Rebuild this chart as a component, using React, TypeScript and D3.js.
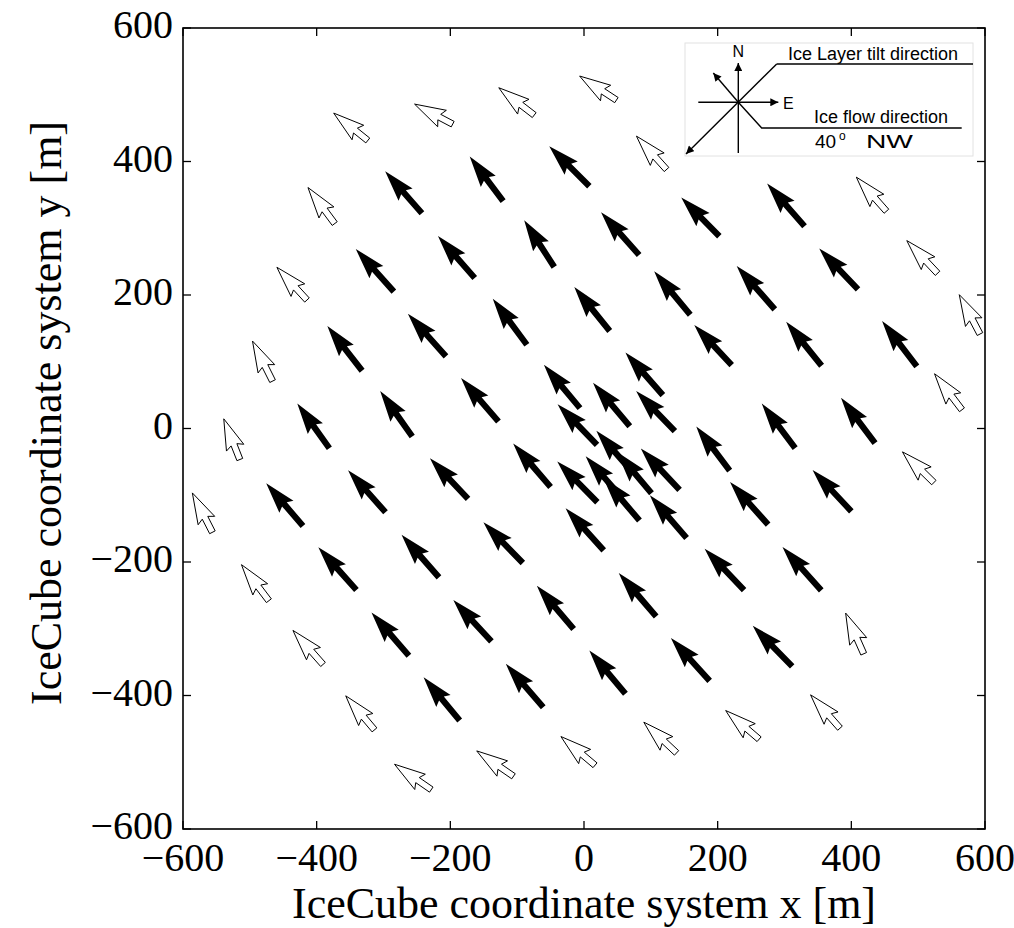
import React from 'react';
import * as d3 from 'd3';

const W = 1014;
const H = 928;

const xTicks = [-600, -400, -200, 0, 200, 400, 600];
const yTicks = [-600, -400, -200, 0, 200, 400, 600];

// Inner strings (filled arrows): position (x, y) in m and arrow vector (u, v) in m
const innerX = [-270, -146, -22, 174, 302, -313, -191, -67, 54, 257, 381, -358, -235, -111, 12, 132, 193, 329, 472, -405, -281, -156, -33, 90, 41, -10, 107, 193, 291, 410, -448, -325, -202, -78, -10, 46, 75, 30, 56, 114, 126, 247, 371, -369, -245, -121, 1, 210, 326, -290, -167, -43, 80, 282, -213, -89, 35, 159];
const innerY = [354, 374, 393, 317, 335, 237, 257, 277, 292, 211, 239, 120, 140, 160, 179, 203, 125, 127, 127, 4, 22, 43, 63, 82, 36, 6, 26, -30, 4, 12, -114, -94, -75, -55, -80, -35, -66, -73, -106, -61, -132, -112, -93, -210, -191, -171, -151, -211, -210, -308, -288, -268, -249, -326, -405, -385, -365, -346];
const innerU = [-55, -50, -60, -57, -56, -57, -55, -45, -57, -57, -58, -52, -57, -51, -53, -54, -56, -53, -52, -48, -48, -56, -54, -56, -55, -59, -58, -50, -50, -51, -55, -56, -57, -56, -60, -55, -52, -55, -54, -58, -55, -57, -58, -57, -56, -59, -57, -59, -58, -56, -57, -55, -56, -59, -54, -56, -54, -58];
const innerV = [63, 67, 60, 58, 64, 64, 63, 70, 64, 65, 61, 67, 64, 69, 66, 65, 60, 66, 68, 67, 68, 65, 65, 64, 65, 61, 60, 66, 67, 68, 64, 63, 61, 65, 61, 63, 62, 63, 64, 62, 64, 64, 62, 64, 64, 61, 63, 62, 65, 65, 62, 65, 65, 61, 65, 65, 65, 64];

// Outer strings (open arrows)
const outerX = [-349, -225, -101, 21, 101, -393, -437, -481, -527, -571, -492, -413, -335, -256, -133, -9, 114, 237, 361, 405, 500, 545, 577, 506, 430];
const outerY = [452, 471, 490, 510, 413, 334, 217, 101, -16, -126, -231, -328, -426, -522, -502, -483, -463, -444, -424, -307, -58, 55, 171, 257, 351];
const outerU = [-51, -57, -53, -55, -45, -40, -45, -30, -24, -30, -41, -45, -43, -55, -55, -51, -49, -50, -44, -27, -47, -41, -31, -46, -45];
const outerV = [41, 30, 41, 36, 50, 54, 49, 60, 61, 59, 54, 51, 51, 38, 38, 43, 46, 43, 50, 61, 46, 54, 59, 49, 51];

const fmt = (t: number) => (t < 0 ? '\u2212' + Math.abs(t) : String(t));

export default function App() {
  const x = d3.scaleLinear().domain([-600, 600]).range([183, 985]);
  const y = d3.scaleLinear().domain([-600, 600]).range([829, 28]);

  const arrowPath = (xi: number, yi: number, u: number, v: number) => {
    const x0 = x(xi - u / 2), y0 = y(yi - v / 2);
    const x1 = x(xi + u / 2), y1 = y(yi + v / 2);
    const dx = x1 - x0, dy = y1 - y0;
    const L = Math.hypot(dx, dy);
    const ux = dx / L, uy = dy / L;
    const px = -uy, py = ux;
    const w = 6.2, hw = 3 * w, hl = 5 * w, hal = 4.5 * w;
    const pts: [number, number][] = [
      [0, -w / 2], [L - hal, -w / 2], [L - hl, -hw / 2], [L, 0],
      [L - hl, hw / 2], [L - hal, w / 2], [0, w / 2],
    ];
    return (d3.line()(pts.map(([a, b]) => [x0 + ux * a + px * b, y0 + uy * a + py * b]) as [number, number][]) || '') + 'Z';
  };

  const serif = '"Liberation Serif", "Times New Roman", serif';
  const sans = '"Liberation Sans", Arial, sans-serif';
  const [x0, x1] = x.range();
  const [y0, y1] = [y(600), y(-600)];
  const tl = 8;

  // inset geometry (pixel layout)
  const cx = 738.3, cy = 102.3;

  return (
    <svg width={W} height={H} style={{ position: 'absolute', left: 0, top: 0, background: '#fff' }}>
      <defs>
        <marker id="ah" viewBox="0 0 10 10" refX="10" refY="5" markerWidth="9" markerHeight="8" markerUnits="userSpaceOnUse" orient="auto">
          <path d="M0,0 L10,5 L0,10 Z" fill="#000" />
        </marker>
      </defs>
      <rect x={0} y={0} width={W} height={H} fill="#fff" />

      {/* arrows */}
      <g>
        {outerX.map((xi, i) => (
          <path key={'o' + i} d={arrowPath(xi, outerY[i], outerU[i], outerV[i])} fill="#fff" stroke="#000" strokeWidth={1} strokeLinejoin="miter" />
        ))}
        {innerX.map((xi, i) => (
          <path key={'i' + i} d={arrowPath(xi, innerY[i], innerU[i], innerV[i])} fill="#000" stroke="none" />
        ))}
      </g>

      {/* inset legend */}
      <g>
        <rect x={685} y={43} width={288} height={113} fill="#fff" stroke="#e2e2e2" strokeWidth={1} />
        <g stroke="#000" strokeWidth={1.4} fill="none">
          <line x1={cx} y1={153} x2={cx} y2={63} markerEnd="url(#ah)" />
          <line x1={698.3} y1={cy} x2={778.3} y2={cy} markerEnd="url(#ah)" />
          <line x1={cx} y1={cy} x2={713.3} y2={73} markerEnd="url(#ah)" />
          <line x1={776.7} y1={64} x2={686} y2={154} markerEnd="url(#ah)" />
          <polyline points={`776.7,64 973,64`} />
          <polyline points={`${cx},${cy} 761.7,128 961.7,128`} />
        </g>
        <g fontFamily={sans} fill="#000">
          <text x={cx} y={57} fontSize={16} textAnchor="middle">N</text>
          <text x={783} y={108.5} fontSize={16}>E</text>
          <text x={788} y={59.5} fontSize={18}>Ice Layer tilt direction</text>
          <text x={814} y={123} fontSize={18}>Ice flow direction</text>
          <text x={815} y={148} fontSize={19}>40</text>
          <text x={839} y={140} fontSize={12}>o</text>
          <text x={866} y={148} fontSize={19} textLength={47} lengthAdjust="spacingAndGlyphs">NW</text>
        </g>
      </g>

      {/* frame */}
      <rect x={x0} y={y0} width={x1 - x0} height={y1 - y0} fill="none" stroke="#000" strokeWidth={1.6} />
      <g stroke="#000" strokeWidth={1.3}>
        {xTicks.map((t) => (
          <g key={'xt' + t}>
            <line x1={x(t)} x2={x(t)} y1={y1} y2={y1 - tl} />
            <line x1={x(t)} x2={x(t)} y1={y0} y2={y0 + tl} />
          </g>
        ))}
        {yTicks.map((t) => (
          <g key={'yt' + t}>
            <line x1={x0} x2={x0 + tl} y1={y(t)} y2={y(t)} />
            <line x1={x1} x2={x1 - tl} y1={y(t)} y2={y(t)} />
          </g>
        ))}
      </g>
      <g fontFamily={serif} fontSize={40} fill="#000">
        {xTicks.map((t) => (
          <text key={'xl' + t} x={x(t)} y={871} textAnchor="middle">{fmt(t)}</text>
        ))}
        {yTicks.map((t) => (
          <text key={'yl' + t} x={173} y={y(t) + 10} textAnchor="end">{fmt(t)}</text>
        ))}
      </g>
      <text x={584} y={918} textAnchor="middle" fontFamily={serif} fontSize={44}>IceCube coordinate system x [m]</text>
      <text transform={`translate(61,${413}) rotate(-90)`} textAnchor="middle" fontFamily={serif} fontSize={44}>IceCube coordinate system y [m]</text>
    </svg>
  );
}
